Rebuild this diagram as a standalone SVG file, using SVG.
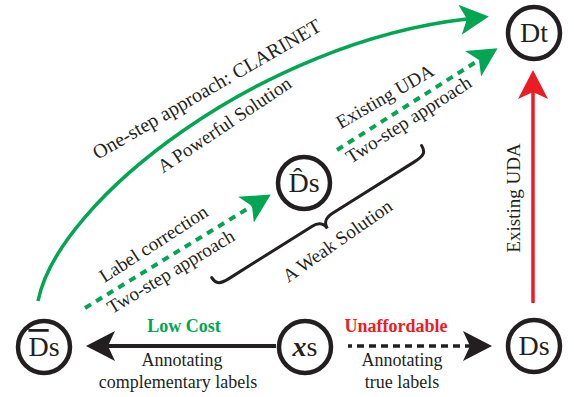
<svg xmlns="http://www.w3.org/2000/svg" width="574" height="397" viewBox="0 0 574 397">
<style>
.node circle{fill:#fff;stroke:#231f20;stroke-width:4.5}
.nl{font-family:"Liberation Serif","Times New Roman",serif;font-size:28px;fill:#231f20;text-anchor:middle}
.t{font-family:"Liberation Serif","Times New Roman",serif;font-size:19px;fill:#231f20;text-anchor:middle}
.b{font-family:"Liberation Serif","Times New Roman",serif;font-size:18px;fill:#231f20;text-anchor:middle}
.bold{font-weight:bold}
.green{stroke:#00a651;fill:none}
.red{stroke:#ed1c24;fill:none}
.black{stroke:#231f20;fill:none}
</style>
<defs>
<marker id="ahG" markerUnits="userSpaceOnUse" viewBox="-8 -16 31 32" markerWidth="31" markerHeight="32" refX="0" refY="0" orient="auto"><path d="M22,0 L-7,-15 L0,0 L-7,15 Z" fill="#00a651"/></marker>
<marker id="ahR" markerUnits="userSpaceOnUse" viewBox="-8 -16 31 32" markerWidth="31" markerHeight="32" refX="0" refY="0" orient="auto"><path d="M22,0 L-7,-15 L0,0 L-7,15 Z" fill="#ed1c24"/></marker>
<marker id="ahK" markerUnits="userSpaceOnUse" viewBox="-8 -16 31 32" markerWidth="31" markerHeight="32" refX="0" refY="0" orient="auto"><path d="M22,0 L-7,-15 L0,0 L-7,15 Z" fill="#231f20"/></marker>
</defs>
<g id="connectors">
<path class="green" stroke-width="3.5" d="M38,301 C58,200 262,42 467,19" marker-end="url(#ahG)"/>
<path class="green" stroke-width="4" stroke-dasharray="7 6" d="M85,308 L252,206" marker-end="url(#ahG)"/>
<path class="green" stroke-width="4" stroke-dasharray="7 6" d="M337,150 L479,60" marker-end="url(#ahG)"/>
<path class="red" stroke-width="3.5" d="M533,303 L533,92" marker-end="url(#ahR)"/>
<path class="black" stroke-width="4" d="M276,346 L108,346" marker-end="url(#ahK)"/>
<path class="black" stroke-width="3.5" stroke-dasharray="7 5" stroke-dashoffset="3" d="M348,346 L470,346" marker-end="url(#ahK)"/>
<path class="black" stroke-width="3" stroke-linecap="round" transform="translate(322,220) rotate(-32.2)" d="M-124,-10 C-124,-2 -120,0 -110,0 L-12,0 C-4,0 0,4 0,10 C0,4 4,0 12,0 L110,0 C120,0 124,-2 124,-10"/>
</g>
<g id="labels">
<text class="t" style="font-size:20px" transform="translate(210,95) rotate(-30)">One-step approach: CLARINET</text>
<text class="t" transform="translate(228,130) rotate(-33.8)">A Powerful Solution</text>
<text class="t" transform="translate(157,249) rotate(-33)">Label correction</text>
<text class="t" transform="translate(174,277) rotate(-31)">Two-step approach</text>
<text class="t" transform="translate(388,102) rotate(-30)">Existing UDA</text>
<text class="t" transform="translate(412,125) rotate(-32.6)">Two-step approach</text>
<text class="t" transform="translate(341,246) rotate(-35)">A Weak Solution</text>
<text class="t" transform="translate(520,198) rotate(-90)">Existing UDA</text>
<text class="b bold" x="184" y="332" style="fill:#00a651">Low Cost</text>
<text class="b bold" x="396" y="332" style="fill:#ed1c24">Unaffordable</text>
<text class="b" x="182" y="366">Annotating</text>
<text class="b" x="178" y="388">complementary labels</text>
<text class="b" x="402" y="366">Annotating</text>
<text class="b" x="402" y="388">true labels</text>
</g>
<g id="node-dbar" class="node"><circle cx="44" cy="347" r="26"/><text class="nl" x="44" y="356"><tspan text-decoration="overline">D</tspan>s</text></g>
<g id="node-xs" class="node"><circle cx="305" cy="347" r="26"/><text class="nl" x="305" y="356"><tspan font-weight="bold" font-style="italic">x</tspan>s</text></g>
<g id="node-ds" class="node"><circle cx="534" cy="346" r="26"/><text class="nl" x="534" y="355">Ds</text></g>
<g id="node-dt" class="node"><circle cx="534" cy="33" r="26"/><text class="nl" x="534" y="42">Dt</text></g>
<g id="node-dhat" class="node"><circle cx="304" cy="183" r="26"/><text class="nl" x="304" y="192">D̂s</text></g>
</svg>
